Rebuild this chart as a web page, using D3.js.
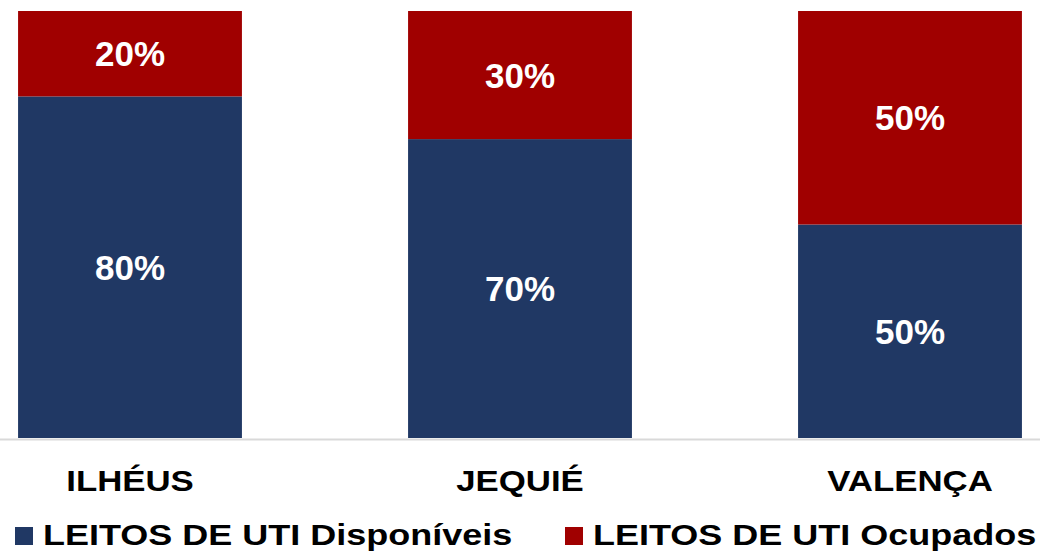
<!DOCTYPE html>
<html>
<head>
<meta charset="utf-8">
<script src="https://cdn.jsdelivr.net/npm/d3@7"></script>
<style>
  html, body { margin: 0; padding: 0; background: #fff; }
</style>
</head>
<body>
<div id="chart"></div>
<script>
const categories = ["ILHÉUS", "JEQUIÉ", "VALENÇA"];
const disponiveis = [80, 70, 50];
const ocupados = [20, 30, 50];
const seriesNames = ["LEITOS DE UTI Disponíveis", "LEITOS DE UTI Ocupados"];
const seriesColors = ["#203864", "#A00000"];

const width = 1040, height = 555;

const rows = categories.map((c, i) => ({ cat: c, disp: disponiveis[i], ocup: ocupados[i] }));
const stacked = d3.stack().keys(["disp", "ocup"])(rows);

const x = d3.scaleBand()
    .domain(categories)
    .range([-65, 1105])
    .paddingInner(0.426)
    .paddingOuter(0.213);

const y = d3.scaleLinear()
    .domain([0, 100])
    .range([438, 11]);

const svg = d3.select("#chart").append("svg")
    .attr("width", width)
    .attr("height", height)
    .style("font-family", "Arial, 'Liberation Sans', sans-serif");

// Bars
const layers = svg.selectAll("g.layer")
    .data(stacked)
    .join("g")
    .attr("class", "layer")
    .attr("fill", (d, i) => seriesColors[i]);

layers.selectAll("rect")
    .data(d => d)
    .join("rect")
    .attr("x", d => x(d.data.cat))
    .attr("y", d => y(d[1]))
    .attr("width", x.bandwidth())
    .attr("height", d => y(d[0]) - y(d[1]));

// Value labels
layers.selectAll("text")
    .data(d => d)
    .join("text")
    .attr("x", d => x(d.data.cat) + x.bandwidth() / 2)
    .attr("y", d => (y(d[0]) + y(d[1])) / 2 + 12.5)
    .attr("text-anchor", "middle")
    .attr("fill", "#fff")
    .attr("font-size", "35px")
    .attr("font-weight", "bold")
    .text(d => (d[1] - d[0]) + "%");

// Baseline
svg.append("line")
    .attr("x1", 0)
    .attr("x2", width)
    .attr("y1", 439.5)
    .attr("y2", 439.5)
    .attr("stroke", "#d9d9d9")
    .attr("stroke-width", 2);

// Category labels (slightly stretched like the original)
svg.selectAll("g.cat")
    .data(categories)
    .join("g")
    .attr("class", "cat")
    .attr("transform", d => `translate(${x(d) + x.bandwidth() / 2},491) scale(1.2,1)`)
    .append("text")
    .attr("text-anchor", "middle")
    .attr("font-size", "29px")
    .attr("font-weight", "bold")
    .attr("fill", "#000")
    .text(d => d);

// Legend
const legendX = [15, 565];
const legend = svg.selectAll("g.legend")
    .data(seriesNames)
    .join("g")
    .attr("class", "legend")
    .attr("transform", (d, i) => `translate(${legendX[i]},527)`);

legend.append("rect")
    .attr("width", 18)
    .attr("height", 18)
    .attr("fill", (d, i) => seriesColors[i]);

legend.append("g")
    .attr("transform", "translate(28,18) scale(1.2,1)")
    .append("text")
    .attr("font-size", "30px")
    .attr("font-weight", "bold")
    .attr("fill", "#000")
    .text(d => d);
</script>
</body>
</html>
